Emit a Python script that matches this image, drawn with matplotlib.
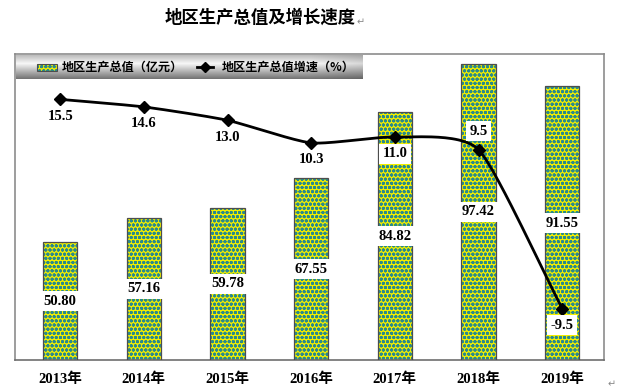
import matplotlib.pyplot as plt
import numpy as np
from matplotlib.patches import Rectangle
from matplotlib.lines import Line2D

plt.rcParams['font.family'] = ['Liberation Serif', 'Noto Sans CJK SC', 'DejaVu Sans']
plt.rcParams['hatch.linewidth'] = 1.0

# данные
years = ['2013年', '2014年', '2015年', '2016年', '2017年', '2018年', '2019年']
gdp = [50.80, 57.16, 59.78, 67.55, 84.82, 97.42, 91.55]
gdp_labels = ['50.80', '57.16', '59.78', '67.55', '84.82', '97.42', '91.55']
growth = [15.5, 14.6, 13.0, 10.3, 11.0, 9.5, -9.5]
growth_labels = ['15.5', '14.6', '13.0', '10.3', '11.0', '9.5', '-9.5']

W, H = 622, 390
fig = plt.figure(figsize=(W / 100, H / 100), dpi=100)


def box(x0, y0, x1, y1):
    # пиксели -> доли фигуры
    return [x0 / W, 1 - y1 / H, (x1 - x0) / W, (y1 - y0) / H]


# гладкая кривая (сплайн Эрмита, касательные ослаблены)
def smooth(xs, ys, n=30, k=0.6):
    p = np.column_stack([xs, ys]).astype(float)
    m = np.zeros_like(p)
    m[1:-1] = (p[2:] - p[:-2]) / 2 * k
    m[0] = (p[1] - p[0]) * k
    m[-1] = (p[-1] - p[-2]) * k
    t = np.linspace(0, 1, n)[:, None]
    h00 = 2 * t ** 3 - 3 * t ** 2 + 1
    h10 = t ** 3 - 2 * t ** 2 + t
    h01 = -2 * t ** 3 + 3 * t ** 2
    h11 = t ** 3 - t ** 2
    out = [h00 * p[i] + h10 * m[i] + h01 * p[i + 1] + h11 * m[i + 1] for i in range(len(p) - 1)]
    out = np.vstack(out)
    return out[:, 0], out[:, 1]


ax = fig.add_axes(box(15, 54, 604, 360))
x = np.arange(len(years))
ax.bar(x, [v - 20 for v in gdp], bottom=20, width=0.41, color='#f2ee00',
       edgecolor='#2a8a8c', hatch='oooo', linewidth=0, zorder=2)
ax.bar(x, [v - 20 for v in gdp], bottom=20, width=0.41, fill=False,
       edgecolor='#4d4d4d', linewidth=0.9, zorder=3)
ax.set_xlim(-0.54, 6.5)
ax.set_ylim(20, 100)
ax.set_yticks([])
ax.set_xticks(x)
ax.set_xticklabels(years, fontsize=10.5, fontweight='bold')
ax.tick_params(axis='x', length=0, pad=9)
for s in ax.spines.values():
    s.set_color('#8c8c8c')
    s.set_linewidth(1.2)
ax.spines['bottom'].set_color('#6e6e6e')

for xi, v, lab in zip(x, gdp, gdp_labels):
    ax.text(xi, (20 + v) / 2, lab, ha='center', va='center', fontsize=10.5,
            fontweight='bold', zorder=5,
            bbox=dict(facecolor='white', edgecolor='none', pad=2.5))

ax2 = ax.twinx()
ax2.set_ylim(-15.64, 20.92)
ax2.set_yticks([])
for s in ax2.spines.values():
    s.set_visible(False)
sx, sy = smooth(x, growth)
ax2.plot(sx, sy, color='black', linewidth=2, zorder=4)
ax2.plot(x, growth, linestyle='none', marker='D', markersize=6, color='black', zorder=5)

for xi, v, lab in zip(x, growth, growth_labels):
    boxed = v < 11.5
    off = 2.2 if lab == '9.5' else -2.0
    ax2.text(xi, v + off, lab, ha='center', va='center', fontsize=10.5,
             fontweight='bold', zorder=6,
             bbox=dict(facecolor='white', edgecolor='none', pad=2.5) if boxed else None)

# легенда с градиентом
lax = fig.add_axes(box(16, 55, 363, 79))
g = np.interp(np.linspace(0, 1, 50), [0, 0.35, 1], [0.74, 0.97, 0.45])
hg = np.interp(np.linspace(0, 1, 200), [0, 0.85, 1], [1.0, 1.0, 0.88])
grad = np.outer(g, hg)
lax.imshow(np.dstack([grad, grad, grad]), aspect='auto', extent=[0, 347, 24, 0])
lax.set_xlim(0, 347)
lax.set_ylim(24, 0)
lax.axis('off')
lax.add_patch(Rectangle((21, 8.5), 20, 7, facecolor='#f2ee00', edgecolor='#2a8a8c',
                        hatch='oooo', linewidth=0))
lax.add_patch(Rectangle((21, 8.5), 20, 7, fill=False, edgecolor='#4d4d4d', linewidth=0.8))
lax.text(46, 12, '地区生产总值（亿元）', va='center', ha='left', fontsize=8.7,
         fontweight='bold', family=['Noto Sans CJK SC', 'DejaVu Sans'])
lax.add_line(Line2D([181, 197], [12, 12], color='black', linewidth=2))
lax.add_line(Line2D([189], [12], marker='D', markersize=5, color='black'))
lax.text(206, 12, '地区生产总值增速（%）', va='center', ha='left', fontsize=8.7,
         fontweight='bold', family=['Noto Sans CJK SC', 'DejaVu Sans'])

fig.text(260 / W, 1 - 18 / H, '地区生产总值及增长速度', ha='center', va='center',
         fontsize=12.5, fontweight='bold', family=['Noto Sans CJK SC', 'DejaVu Sans'])
fig.text(357 / W, 1 - 22 / H, '↵', ha='left', va='center', fontsize=7,
         color='#888888', family=['DejaVu Sans'])
fig.text(608 / W, 1 - 384 / H, '↵', ha='left', va='center', fontsize=7,
         color='#888888', family=['DejaVu Sans'])

fig.savefig('out.png', dpi=100)
